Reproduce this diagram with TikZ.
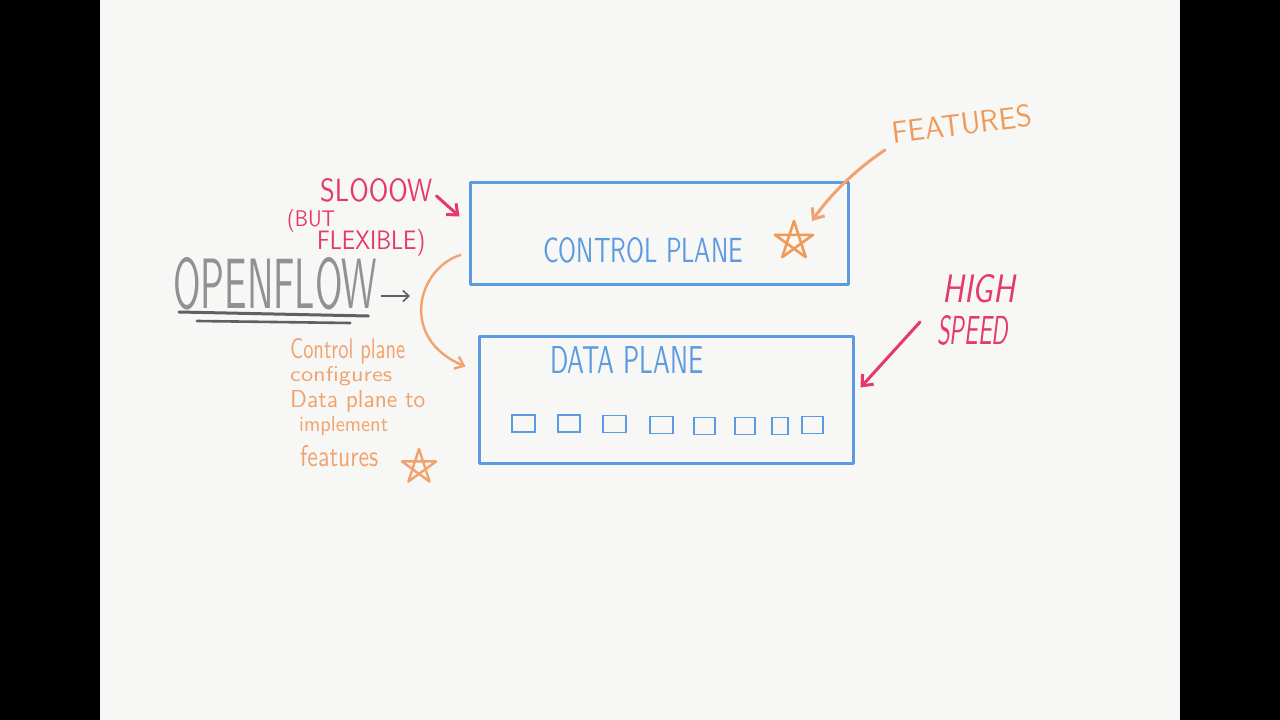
\documentclass[tikz,border=0pt]{standalone}
\usetikzlibrary{arrows.meta,calc}
\definecolor{board}{HTML}{F7F7F5}
\definecolor{bluem}{HTML}{5C9BE0}
\definecolor{crim}{HTML}{E5386B}
\definecolor{orng}{HTML}{F2A26E}
\definecolor{orngd}{HTML}{F09A58}
\definecolor{greym}{HTML}{8E9195}
\definecolor{greyd}{HTML}{5E6064}
\newcommand{\hw}[3]{\resizebox{#1pt}{#2pt}{\sffamily #3}}
\tikzset{
  txt/.style={inner sep=0pt, anchor=base west},
  planebox/.style={draw=bluem, line width=3pt, rectangle, inner sep=0pt, line join=round},
  port/.style={draw=bluem, line width=1.6pt, rectangle, inner sep=0pt, minimum height=17pt},
  marker/.style={line width=3pt, line cap=round, line join=round},
  barb/.style={-{Straight Barb[length=9pt,width=15pt]}},
}
\begin{document}
\begin{tikzpicture}[x=1pt,y=-1pt]
\fill[black] (0,0) rectangle (1280,720);
\fill[board] (100,0) rectangle (1180,720);
\useasboundingbox (0,0) rectangle (1280,720);

% boxes
\node[planebox, minimum width=378pt, minimum height=102pt] (cp) at (659,233) {};
\node[planebox, minimum width=374pt, minimum height=127pt] (dp) at (666,399.5) {};

% box texts
\node[txt, text=bluem] (cpt) at (543,262) {\hw{200}{25}{CONTROL PLANE}};
\node[txt, text=bluem] (dpt) at (550,373) {\hw{153}{27}{DATA PLANE}};

% ports
\node[port, minimum width=23pt] (p1) at (523.5,423.5) {};
\node[port, minimum width=22pt] (p2) at (569,423.5) {};
\node[port, minimum width=23pt] (p3) at (614.5,424) {};
\node[port, minimum width=23pt] (p4) at (661.5,425) {};
\node[port, minimum width=21pt] (p5) at (704.5,426) {};
\node[port, minimum width=20pt] (p6) at (745,426) {};
\node[port, minimum width=16pt] (p7) at (780,426) {};
\node[port, minimum width=21pt] (p8) at (812.5,425) {};

% stars
\coordinate (s1) at (794,241);
\coordinate (s2) at (419,467);
\draw[orngd, marker, line width=2.6pt] ($(s1)+(-90:20)$) -- ($(s1)+(54:20)$) -- ($(s1)+(198:20)$) -- ($(s1)+(-18:20)$) -- ($(s1)+(126:20)$) -- cycle;
\draw[orng, marker, line width=2.4pt] ($(s2)+(-90:18)$) -- ($(s2)+(54:18)$) -- ($(s2)+(198:18)$) -- ($(s2)+(-18:18)$) -- ($(s2)+(126:18)$) -- cycle;

% slow text
\node[txt, text=crim] (slow) at (320,201) {\hw{112}{23}{SLOOOW}};
\node[txt, text=crim] (but) at (287,226) {\hw{48}{17}{(BUT}};
\node[txt, text=crim] (flex) at (317,249) {\hw{108}{20}{FLEXIBLE)}};
\draw[crim, marker, barb] ($(slow.east)+(4,6)$) -- ($(cp.north west)+(-9,36)$);

% openflow
\node[txt, text=greym] (of) at (173,308) {\hw{204}{51}{OPENFLOW}};
\draw[greyd, line width=3pt, line cap=round] ($(of.base west)+(6,4)$) coordinate (u1) -- ($(of.base east)+(-9,8)$) coordinate (u2);
\draw[greyd, line width=2.6pt, line cap=round] ($(of.base west)+(24,13)$) coordinate (u3) -- ($(of.base east)+(-27,15)$) coordinate (u4);
\coordinate (ofa) at (410,296);
\draw[greyd, line width=1.6pt, -{Straight Barb[length=6pt,width=11pt]}] ($(of.base east)+(4,-12)$) -- (ofa);

% curved configure arrow
\draw[orng, line width=2.4pt, line cap=round, -{Straight Barb[length=8pt,width=13pt]}]
  ($(cp.west)+(-8,22)$) .. controls (418,268) and (398,338) .. ($(dp.west)+(-12,-33)$);

% orange explanation
\node[txt, text=orng] (e1) at (290,358) {\hw{115}{20}{Control plane}};
\node[txt, text=orng] (e2) at (290,381) {\hw{102}{15}{configures}};
\node[txt, text=orng] (e3) at (290,407) {\hw{135}{17}{Data plane to}};
\node[txt, text=orng] (e4) at (299,431) {\hw{89}{15}{implement}};
\node[txt, text=orng] (e5) at (300,466) {\hw{78}{21}{features}};

% features
\node[inner sep=0pt, text=orngd, rotate=7] (feat) at (962,124) {\hw{140}{22}{FEATURES}};
\coordinate (fa) at (885,150);
\draw[orng, marker, barb] (fa) .. controls (855,170) and (830,195) .. ($(s1)+(18,-20)$);

% high speed
\node[txt, text=crim] (high) at (942,302) {\hw{73}{28}{\slshape HIGH}};
\node[txt, text=crim] (speed) at (937,344) {\hw{71}{29}{\slshape SPEED}};
\coordinate (hsa) at (920,322);
\draw[crim, marker, barb] (hsa) -- ($(dp.east)+(6,-12)$);
\end{tikzpicture}
\end{document}
